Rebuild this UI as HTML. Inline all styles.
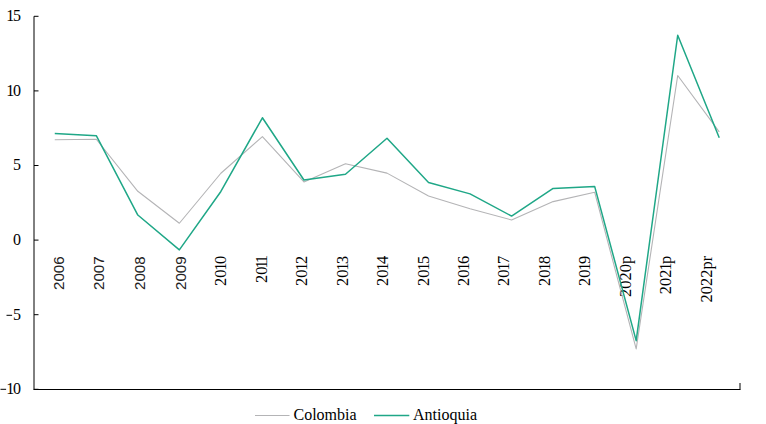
<!DOCTYPE html>
<html><head><meta charset="utf-8"><style>
html,body{margin:0;padding:0;background:#fff;}
body{width:766px;height:424px;overflow:hidden;}
svg{display:block;}
.yl{font-family:"Liberation Serif",serif;font-size:16px;fill:#000;}
.xl{fill:#000;}
.sans{font-family:"Liberation Sans",sans-serif;font-size:15.5px;fill:#222;}
.serif{font-family:"Liberation Serif",serif;font-size:16.5px;}
.lg{font-family:"Liberation Serif",serif;font-size:16px;fill:#000;}
</style></head><body>
<svg width="766" height="424" viewBox="0 0 766 424">
<line x1="34.0" y1="16.30" x2="34.0" y2="389.5" stroke="#000" stroke-width="1"/>
<line x1="33.5" y1="389.5" x2="740.5" y2="389.5" stroke="#000" stroke-width="1"/>
<line x1="740.0" y1="383" x2="740.0" y2="389.5" stroke="#000" stroke-width="1"/>
<line x1="34.0" y1="16.30" x2="38.5" y2="16.30" stroke="#000" stroke-width="1"/>
<text x="21" y="21.10" text-anchor="end" class="yl">1<tspan dx="-1.2">5</tspan></text>
<line x1="34.0" y1="90.90" x2="38.5" y2="90.90" stroke="#000" stroke-width="1"/>
<text x="21" y="95.70" text-anchor="end" class="yl">1<tspan dx="-1.2">0</tspan></text>
<line x1="34.0" y1="165.50" x2="38.5" y2="165.50" stroke="#000" stroke-width="1"/>
<text x="21" y="170.30" text-anchor="end" class="yl">5</text>
<line x1="34.0" y1="240.10" x2="38.5" y2="240.10" stroke="#000" stroke-width="1"/>
<text x="21" y="244.90" text-anchor="end" class="yl">0</text>
<line x1="34.0" y1="314.70" x2="38.5" y2="314.70" stroke="#000" stroke-width="1"/>
<text x="21" y="319.50" text-anchor="end" class="yl">5</text>
<rect x="6.5" y="314.80" width="5.6" height="1" fill="#000"/>
<line x1="34.0" y1="389.30" x2="38.5" y2="389.30" stroke="#000" stroke-width="1"/>
<text x="21" y="394.10" text-anchor="end" class="yl">1<tspan dx="-1.2">0</tspan></text>
<rect x="0.5" y="388.80" width="5.6" height="1" fill="#000"/>

<text transform="translate(63.90,256.4) rotate(-90) scale(0.975,1.0)" text-anchor="end" class="xl sans">2006</text>
<text transform="translate(104.45,256.4) rotate(-90) scale(0.975,1.0)" text-anchor="end" class="xl sans">2007</text>
<text transform="translate(145.00,256.4) rotate(-90) scale(0.975,1.0)" text-anchor="end" class="xl sans">2008</text>
<text transform="translate(185.55,256.4) rotate(-90) scale(0.975,1.0)" text-anchor="end" class="xl sans">2009</text>
<text transform="translate(226.30,255.7) rotate(-90)" text-anchor="end" class="xl serif">20<tspan dx="-1.4">1</tspan><tspan dx="-1.4">0</tspan></text>
<text transform="translate(266.75,255.1) rotate(-90)" text-anchor="end" class="xl serif">20<tspan dx="-1.8">1</tspan><tspan dx="-2.6">1</tspan></text>
<text transform="translate(307.20,255.7) rotate(-90)" text-anchor="end" class="xl serif">20<tspan dx="-1.4">1</tspan><tspan dx="-1.4">2</tspan></text>
<text transform="translate(347.65,255.7) rotate(-90)" text-anchor="end" class="xl serif">20<tspan dx="-1.4">1</tspan><tspan dx="-1.4">3</tspan></text>
<text transform="translate(388.10,255.7) rotate(-90)" text-anchor="end" class="xl serif">20<tspan dx="-1.4">1</tspan><tspan dx="-1.4">4</tspan></text>
<text transform="translate(428.55,255.7) rotate(-90)" text-anchor="end" class="xl serif">20<tspan dx="-1.4">1</tspan><tspan dx="-1.4">5</tspan></text>
<text transform="translate(469.00,255.7) rotate(-90)" text-anchor="end" class="xl serif">20<tspan dx="-1.4">1</tspan><tspan dx="-1.4">6</tspan></text>
<text transform="translate(509.45,255.7) rotate(-90)" text-anchor="end" class="xl serif">20<tspan dx="-1.4">1</tspan><tspan dx="-1.4">7</tspan></text>
<text transform="translate(549.90,255.7) rotate(-90)" text-anchor="end" class="xl serif">20<tspan dx="-1.4">1</tspan><tspan dx="-1.4">8</tspan></text>
<text transform="translate(590.35,255.7) rotate(-90)" text-anchor="end" class="xl serif">20<tspan dx="-1.4">1</tspan><tspan dx="-1.4">9</tspan></text>
<text transform="translate(630.80,255.7) rotate(-90)" text-anchor="end" class="xl serif">2020p</text>
<text transform="translate(671.25,255.7) rotate(-90)" text-anchor="end" class="xl serif">202<tspan dx="-1.4">1</tspan><tspan dx="-1.4">p</tspan></text>
<text transform="translate(711.70,255.7) rotate(-90)" text-anchor="end" class="xl serif">2022pr</text>

<polyline points="54.76,139.69 96.29,139.24 137.82,191.31 179.35,223.24 220.88,173.26 262.41,136.70 303.94,181.91 345.47,163.71 387.00,173.11 428.53,195.94 470.06,208.77 511.59,219.96 553.12,201.61 594.65,192.21 636.18,348.87 677.71,75.53 719.24,131.93" fill="none" stroke="#b4b4b6" stroke-width="1.1" stroke-linejoin="round"/>
<polyline points="54.76,133.57 96.29,135.66 137.82,215.03 179.35,249.87 220.88,191.46 262.41,117.76 303.94,179.97 345.47,174.30 387.00,138.20 428.53,182.51 470.06,193.85 511.59,216.08 553.12,188.48 594.65,186.39 636.18,340.66 677.71,35.25 719.24,137.75" fill="none" stroke="#1fa787" stroke-width="1.5" stroke-linejoin="round"/>
<line x1="255" y1="415.5" x2="289.5" y2="415.5" stroke="#b4b4b6" stroke-width="1.1"/>
<text x="293.5" y="420" class="lg">Colombia</text>
<line x1="374" y1="415.5" x2="409.3" y2="415.5" stroke="#1fa787" stroke-width="1.6"/>
<text x="413" y="420" class="lg">Antioquia</text>
</svg>
</body></html>
